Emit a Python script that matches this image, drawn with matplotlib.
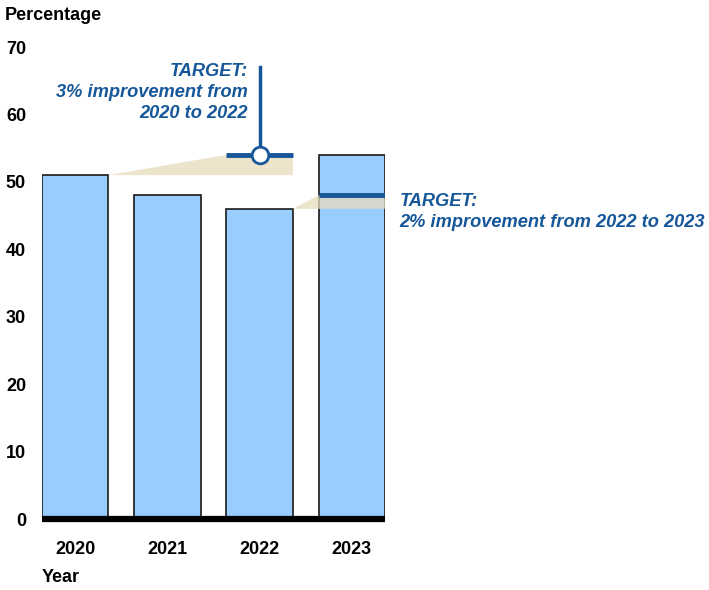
import matplotlib
matplotlib.use("Agg")
import matplotlib.pyplot as plt
from matplotlib.patches import Polygon

years = ["2020", "2021", "2022", "2023"]
values = [51, 48, 46, 54]
target1 = 54   # 2020 + 3
target2 = 48   # 2022 + 2
yticks = [0, 10, 20, 30, 40, 50, 60, 70]

plt.rcParams['font.family'] = ['Liberation Sans', 'DejaVu Sans']

fig = plt.figure(figsize=(7.09, 5.90), dpi=100)
ax = fig.add_axes([42/709, 71/590, 343/709, 472/590])

W = 0.72
x = list(range(len(years)))
ax.bar(x, values, width=W, color="#99ccff", edgecolor="#1a1a1a", linewidth=1.2, zorder=2)
ax.set_xlim(-W/2, len(years) - 1 + W/2)
ax.set_ylim(0, 70)

beige = (231/255, 219/255, 188/255)
blue = "#16579a"

h = W / 2
p1 = Polygon([(0 + h, values[0]), (2 - h, target1), (2 + h, target1), (2 + h, values[0])],
             closed=True, facecolor=beige, edgecolor="none", alpha=0.75, zorder=3)
ax.add_patch(p1)
p2 = Polygon([(2 + h, values[2]), (3 - h, target2), (3 + h, target2), (3 + h, values[2])],
             closed=True, facecolor=beige, edgecolor="none", alpha=0.75, zorder=3)
ax.add_patch(p2)

ax.plot([2 - h, 2 + h], [target1, target1], color=blue, lw=3.5, solid_capstyle="butt", zorder=4)
ax.plot([2, 2], [target1, 67], color=blue, lw=2.5, zorder=4, clip_on=False)
ax.plot([2], [target1], marker="o", markersize=12, markerfacecolor="white",
        markeredgecolor=blue, markeredgewidth=2, zorder=5, clip_on=False)
ax.plot([3 - h, 3 + h], [target2, target2], color=blue, lw=3.5, solid_capstyle="butt", zorder=4)

ax.text(2 - 0.13, 67.7, "TARGET:\n3% improvement from\n2020 to 2022", ha="right", va="top",
        color=blue, fontsize=13.15, fontweight="bold", fontstyle="italic", linespacing=1.34,
        clip_on=False)
ax.text(3 + h + 0.155, 48.4, "TARGET:\n2% improvement from 2022 to 2023", ha="left", va="top",
        color=blue, fontsize=13.15, fontweight="bold", fontstyle="italic", linespacing=1.34,
        clip_on=False)

for s in ["top", "right", "left"]:
    ax.spines[s].set_visible(False)
ax.spines["bottom"].set_linewidth(4.5)
ax.spines["bottom"].set_color("black")
ax.spines["bottom"].set_capstyle("butt")
ax.spines["bottom"].set_zorder(6)

ax.set_yticks(yticks)
ax.set_yticklabels([str(v) for v in yticks], fontsize=13, fontweight="bold")
ax.set_xticks(x)
ax.set_xticklabels(years, fontsize=13, fontweight="bold")
ax.tick_params(axis="y", length=0, pad=11.5)
ax.tick_params(axis="x", length=0, pad=16)

fig.text(5/709, 1 - 15/590, "Percentage", ha="left", va="center", fontsize=13, fontweight="bold")
fig.text(42/709, 1 - 578/590, "Year", ha="left", va="center", fontsize=13, fontweight="bold")

fig.savefig("out.png", dpi=100)
